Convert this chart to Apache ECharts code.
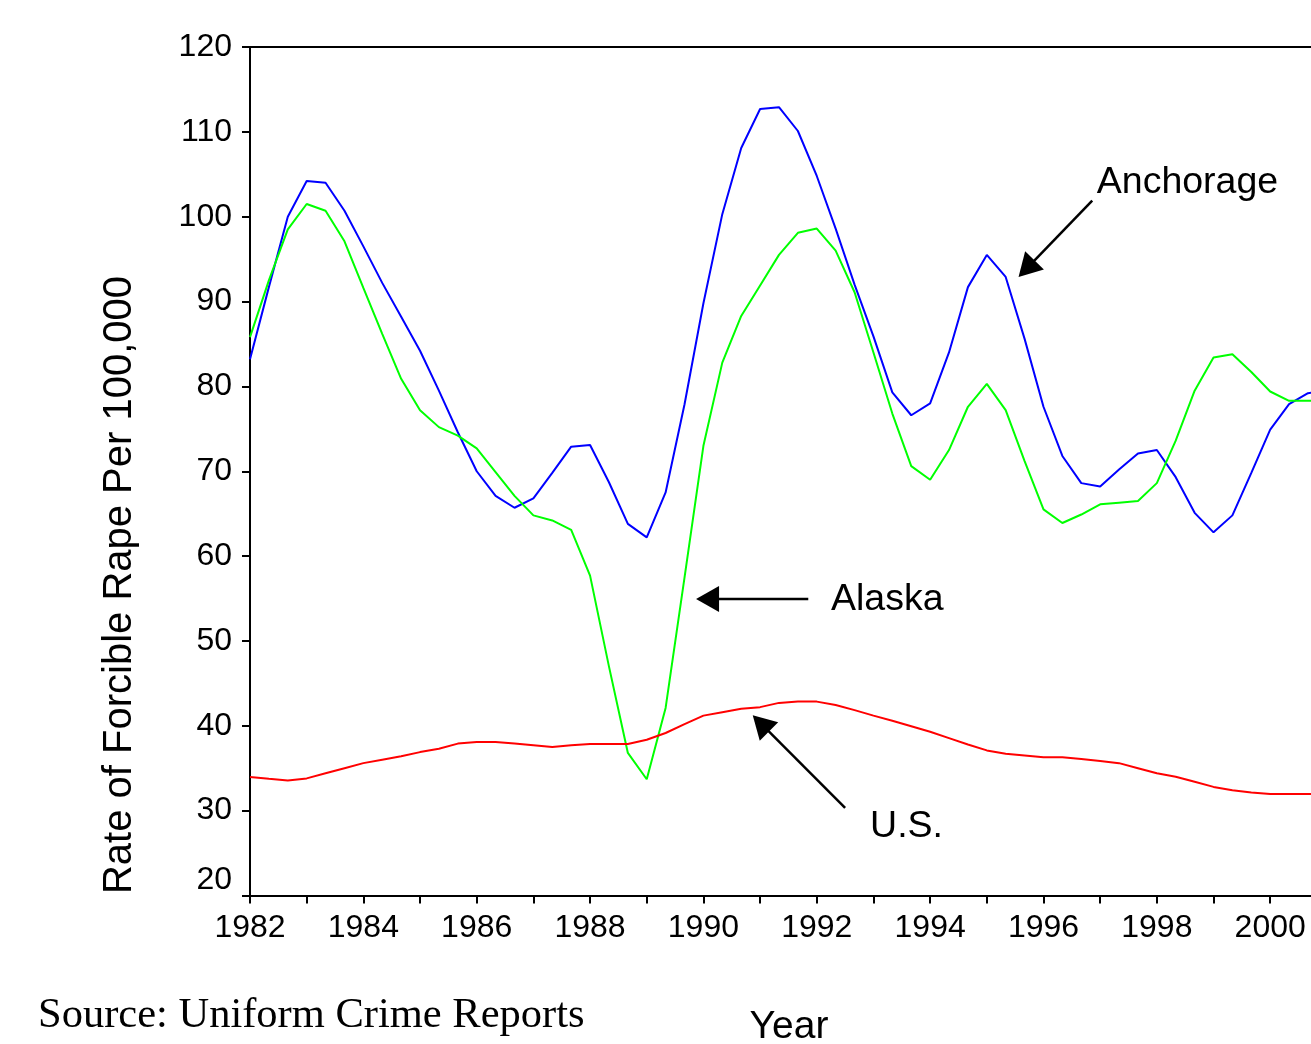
<!DOCTYPE html>
<html><head><meta charset="utf-8">
<script src="https://cdn.jsdelivr.net/npm/echarts@6/dist/echarts.min.js"></script>
<style>html,body{margin:0;padding:0;background:#fff}#c{width:1311px;height:1044px}</style>
</head><body><div id="c"></div>
<script>
// Time points (every third of a year)
const periods = [
  1982, 1982.333, 1982.667, 1983, 1983.333, 1983.667, 1984, 1984.333, 1984.667,
  1985, 1985.333, 1985.667, 1986, 1986.333, 1986.667, 1987, 1987.333, 1987.667,
  1988, 1988.333, 1988.667, 1989, 1989.333, 1989.667, 1990, 1990.333, 1990.667,
  1991, 1991.333, 1991.667, 1992, 1992.333, 1992.667, 1993, 1993.333, 1993.667,
  1994, 1994.333, 1994.667, 1995, 1995.333, 1995.667, 1996, 1996.333, 1996.667,
  1997, 1997.333, 1997.667, 1998, 1998.333, 1998.667, 1999, 1999.333, 1999.667,
  2000, 2000.333, 2000.667, 2001
];
const anchorage = [
  83.2, 91.7, 100.0, 104.2, 104.0, 100.7, 96.5, 92.2, 88.2, 84.2,
  79.5, 74.6, 70.0, 67.1, 65.7, 66.8, 69.8, 72.9, 73.1, 68.7,
  63.8, 62.2, 67.5, 77.9, 89.8, 100.3, 108.1, 112.7, 112.9, 110.1,
  104.8, 98.6, 92.0, 85.9, 79.3, 76.6, 78.0, 84.0, 91.7, 95.5,
  92.9, 85.6, 77.6, 71.8, 68.6, 68.2, 70.2, 72.1, 72.5, 69.3,
  65.1, 62.8, 64.8, 69.8, 74.9, 77.9, 79.2, 79.6
];
const alaska = [
  85.8, 92.5, 98.5, 101.5, 100.7, 97.1, 91.6, 86.2, 80.9, 77.2,
  75.2, 74.2, 72.7, 69.9, 67.1, 64.8, 64.2, 63.1, 57.7, 47.0,
  36.8, 33.7, 42.1, 57.5, 73.0, 82.8, 88.3, 91.9, 95.5, 98.1,
  98.6, 96.0, 91.1, 84.0, 76.8, 70.6, 69.0, 72.5, 77.6, 80.3,
  77.2, 71.2, 65.5, 63.9, 64.9, 66.1, 66.3, 66.5, 68.6, 73.6,
  79.5, 83.4, 83.8, 81.7, 79.4, 78.3, 78.3, 78.4
];
const us = [
  33.96, 33.75, 33.55, 33.8, 34.4, 35.0, 35.6, 36.0, 36.4, 36.9,
  37.3, 37.9, 38.1, 38.1, 37.9, 37.7, 37.5, 37.7, 37.85, 37.85,
  37.85, 38.36, 39.15, 40.2, 41.2, 41.6, 42.0, 42.2, 42.7, 42.85,
  42.85, 42.45, 41.85, 41.2, 40.6, 39.95, 39.3, 38.55, 37.8, 37.1,
  36.7, 36.5, 36.3, 36.3, 36.1, 35.85, 35.6, 35.0, 34.4, 34.0,
  33.4, 32.8, 32.4, 32.15, 31.95, 31.95, 31.95, 31.95
];
const seriesNames = ['Anchorage', 'Alaska', 'U.S.'];
const yTitle = 'Rate of Forcible Rape Per 100,000';
const xTitle = 'Year';
const sourceText = 'Source: Uniform Crime Reports';

const FONT = '"Liberation Sans", Arial, sans-serif';
const SERIF = '"Liberation Serif", "Times New Roman", serif';

function pairs(vals) { return periods.map((p, i) => [p, vals[i]]); }

const chart = echarts.init(document.getElementById('c'), null, { renderer: 'canvas' });

const axisLineStyle = { color: '#000', width: 2 };
const option = {
  animation: false,
  backgroundColor: '#fff',
  grid: { left: 250, top: 47, right: 0, bottom: 148.5, containLabel: false },
  xAxis: [
    {
      type: 'value', min: 1982, max: 2000.72, interval: 1,
      axisLine: { show: true, lineStyle: axisLineStyle },
      axisTick: { show: true, length: 8, lineStyle: axisLineStyle },
      axisLabel: {
        margin: 17, fontSize: 32, color: '#000', fontFamily: FONT, showMaxLabel: false,
        formatter: function (v) {
          const r = Math.round(v);
          return (Math.abs(v - r) < 1e-6 && r % 2 === 0) ? String(r) : '';
        }
      },
      splitLine: { show: false }
    },
    {
      type: 'value', position: 'top', min: 1982, max: 2000.72,
      axisLine: { show: true, lineStyle: axisLineStyle },
      axisTick: { show: false }, axisLabel: { show: false }, splitLine: { show: false }
    }
  ],
  yAxis: {
    type: 'value', min: 20, max: 120, interval: 10,
    axisLine: { show: true, lineStyle: axisLineStyle },
    axisTick: { show: true, length: 8, lineStyle: axisLineStyle },
    axisLabel: {
      margin: 18, fontSize: 32, color: '#000', fontFamily: FONT,
      formatter: function (v) { return v === 20 ? '{low|' + v + '}' : String(v); },
      rich: { low: { fontSize: 32, fontFamily: FONT, color: '#000', padding: [0, 0, 30, 0] } }
    },
    splitLine: { show: false }
  },
  series: [
    { name: seriesNames[0], type: 'line', xAxisIndex: 0, data: pairs(anchorage), showSymbol: false,
      lineStyle: { color: '#0000ff', width: 2 }, itemStyle: { color: '#0000ff' }, clip: true },
    { name: seriesNames[1], type: 'line', xAxisIndex: 0, data: pairs(alaska), showSymbol: false,
      lineStyle: { color: '#00ff00', width: 2 }, itemStyle: { color: '#00ff00' }, clip: true },
    { name: seriesNames[2], type: 'line', xAxisIndex: 0, data: pairs(us), showSymbol: false,
      lineStyle: { color: '#ff0000', width: 2 }, itemStyle: { color: '#ff0000' }, clip: true }
  ]
};
chart.setOption(option);

// Annotation arrows in data coordinates
const arrows = [
  { tail: [1996.86, 101.9], tip: [1995.56, 92.9] },
  { tail: [1991.85, 54.95], tip: [1989.87, 54.95] },
  { tail: [1992.50, 30.33], tip: [1990.87, 41.25] }
];
const labels = [
  { text: seriesNames[0], at: [1996.94, 104.0] },
  { text: seriesNames[1], at: [1992.25, 54.85] },
  { text: seriesNames[2], at: [1992.94, 28.15] }
];

function px(p) { return chart.convertToPixel({ xAxisIndex: 0, yAxisIndex: 0 }, p); }

const graphics = [];
const L = 23, W = 13;
arrows.forEach(a => {
  const t = px(a.tail), h = px(a.tip);
  const dx = h[0] - t[0], dy = h[1] - t[1];
  const len = Math.sqrt(dx * dx + dy * dy);
  const ux = dx / len, uy = dy / len;
  const bx = h[0] - ux * L, by = h[1] - uy * L;
  const nx = -uy, ny = ux;
  graphics.push({ type: 'line', silent: true, shape: { x1: t[0], y1: t[1], x2: bx + ux * 2, y2: by + uy * 2 },
    style: { stroke: '#000', lineWidth: 2.5 } });
  graphics.push({ type: 'polygon', silent: true,
    shape: { points: [[h[0], h[1]], [bx + nx * W, by + ny * W], [bx - nx * W, by - ny * W]] },
    style: { fill: '#000' } });
});
labels.forEach(l => {
  const p = px(l.at);
  graphics.push({ type: 'text', silent: true, x: p[0], y: p[1],
    style: { text: l.text, fontSize: 37.5, fontFamily: FONT, fill: '#000', align: 'left', verticalAlign: 'middle' } });
});
graphics.push({ type: 'text', silent: true, x: 120, y: 585, rotation: Math.PI / 2,
  style: { text: yTitle, fontSize: 40, fontFamily: FONT, fill: '#000', align: 'center', verticalAlign: 'middle' } });
graphics.push({ type: 'text', silent: true, x: 789, y: 1027,
  style: { text: xTitle, fontSize: 39, fontFamily: FONT, fill: '#000', align: 'center', verticalAlign: 'middle' } });
graphics.push({ type: 'text', silent: true, x: 38, y: 1016,
  style: { text: sourceText, fontSize: 42.5, fontFamily: SERIF, fill: '#000', align: 'left', verticalAlign: 'middle' } });

chart.setOption({ graphic: graphics });
</script>
</body></html>
